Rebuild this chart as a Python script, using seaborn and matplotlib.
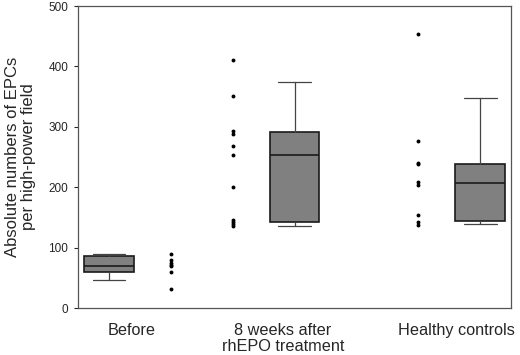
import seaborn as sns
import pandas as pd
import matplotlib
matplotlib.use("Agg")
import matplotlib.pyplot as plt

# raw counts per group (dots)
groups = ["Before", "8 weeks after\nrhEPO treatment", "Healthy controls"]
before_pts = [90, 79, 74, 71, 69, 60, 31]
wk8_pts = [410, 351, 294, 289, 268, 253, 200, 146, 142, 139, 136]
healthy_pts = [453, 277, 240, 238, 208, 203, 154, 142, 137]

# box summaries: low whisker, Q1, median, Q3, high whisker
whis_lo = [47, 136, 139]
q1 = [59, 142, 144]
med = [70.5, 253, 207]
q3 = [85.5, 291, 238]
whis_hi = [89, 374, 347]

y_ticks = [0, 100, 200, 300, 400, 500]

# layout: box and dot column positions on the x axis
box_pos = [1, 4, 7]
dot_pos = [2, 3, 6]
label_pos = [1.37, 3.81, 6.62]

sns.set_style("white")
plt.rcParams["font.family"] = ["Liberation Sans", "DejaVu Sans"]

fig = plt.figure(figsize=(5.2, 3.55), dpi=100)
ax = fig.add_axes([0.15, 0.132, 0.833, 0.851])

pts = pd.DataFrame({
    "pos": [dot_pos[0]] * len(before_pts) + [dot_pos[1]] * len(wk8_pts) + [dot_pos[2]] * len(healthy_pts),
    "count": before_pts + wk8_pts + healthy_pts,
})
sns.stripplot(data=pts, x="pos", y="count", native_scale=True, jitter=False,
              color="black", size=2.8, linewidth=0, ax=ax)

stats = [dict(whislo=whis_lo[i], q1=q1[i], med=med[i], q3=q3[i], whishi=whis_hi[i], fliers=[])
         for i in range(3)]
ax.bxp(stats, positions=box_pos, widths=0.8, patch_artist=True, showfliers=False,
       boxprops=dict(facecolor="#808080", edgecolor="#1a1a1a", linewidth=1.2),
       medianprops=dict(color="#1a1a1a", linewidth=1.2),
       whiskerprops=dict(color="#444444", linewidth=0.9),
       capprops=dict(color="#444444", linewidth=0.9), capwidths=0.53)

ax.set_xlim(0.5, 7.5)
ax.set_ylim(0, 500)
ax.set_yticks(y_ticks)
ax.set_xticks(label_pos)
ax.set_xticklabels(groups, fontsize=11.7, linespacing=1.05)
ax.tick_params(axis="x", length=0, pad=11)
ax.tick_params(axis="y", length=3, width=0.8, direction="out", labelsize=8.5, pad=4, left=True)
ax.set_xlabel("")
ax.set_ylabel("Absolute numbers of EPCs\nper high-power field", fontsize=12, labelpad=9,
              linespacing=1.05)

for s in ax.spines.values():
    s.set_color("#555555")
    s.set_linewidth(0.9)

fig.savefig("out.png", dpi=100)
